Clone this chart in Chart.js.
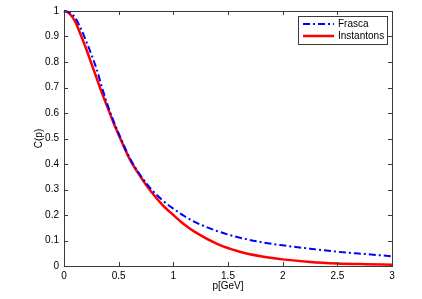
<!DOCTYPE html>
<html>
<head>
<meta charset="utf-8">
<script src="https://cdn.jsdelivr.net/npm/chart.js@4.4.1/dist/chart.umd.min.js"></script>
<style>
  html, body { margin: 0; padding: 0; background: #fff; }
  #wrap { width: 422px; height: 299px; }
</style>
</head>
<body>
<div id="wrap"><canvas id="corrChart" width="422" height="299"></canvas></div>
<script>
// momentum values p [GeV]
const pValues = [0, 0.05, 0.1, 0.15, 0.2, 0.25, 0.3, 0.35, 0.4, 0.45, 0.5, 0.6, 0.7, 0.8, 0.9, 1.0, 1.1, 1.2, 1.4, 1.6, 1.8, 2.0, 2.25, 2.5, 2.75, 3.0];
// C(p)
const frascaValues = [1, 0.995, 0.975, 0.935, 0.885, 0.83, 0.77, 0.697, 0.63, 0.572, 0.52, 0.425, 0.355, 0.30, 0.258, 0.225, 0.196, 0.172, 0.137, 0.112, 0.094, 0.081, 0.068, 0.056, 0.047, 0.038];
const instantonValues = [1, 0.99, 0.96, 0.91, 0.855, 0.795, 0.735, 0.675, 0.62, 0.565, 0.515, 0.42, 0.35, 0.29, 0.24, 0.20, 0.163, 0.133, 0.087, 0.057, 0.038, 0.026, 0.016, 0.01, 0.007, 0.005];
const seriesNames = ['Frasca', 'Instantons'];
const xTicks = [0, 0.5, 1, 1.5, 2, 2.5, 3];
const yTicks = [0, 0.1, 0.2, 0.3, 0.4, 0.5, 0.6, 0.7, 0.8, 0.9, 1];

const FONT = 'Liberation Sans, Arial, Helvetica, sans-serif';
const toPoints = (xs, ys) => xs.map((x, i) => ({ x: x, y: ys[i] }));
const fmt = v => String(+Number(v).toFixed(2));

// Box rond de assen met ticks naar binnen (Matlab stijl)
const boxPlugin = {
    id: 'matlabBox',
    afterDatasetsDraw(chart) {
        const { ctx, chartArea: a, scales } = chart;
        ctx.save();
        ctx.strokeStyle = '#3a3a3a';
        ctx.lineWidth = 1;
        ctx.strokeRect(a.left + 0.5, a.top + 0.5, a.right - a.left, a.bottom - a.top);
        ctx.beginPath();
        xTicks.forEach(v => {
            const px = Math.round(scales.x.getPixelForValue(v)) + 0.5;
            ctx.moveTo(px, a.bottom); ctx.lineTo(px, a.bottom - 4);
            ctx.moveTo(px, a.top); ctx.lineTo(px, a.top + 4);
        });
        yTicks.forEach(v => {
            const py = Math.round(scales.y.getPixelForValue(v)) + 0.5;
            ctx.moveTo(a.left, py); ctx.lineTo(a.left + 4, py);
            ctx.moveTo(a.right, py); ctx.lineTo(a.right - 4, py);
        });
        ctx.stroke();
        ctx.restore();
    },
    afterDraw(chart) {
        // legenda rechtsboven
        const { ctx, chartArea: a } = chart;
        const bx = a.right - 94, by = a.top + 5, bw = 89, bh = 28;
        ctx.save();
        ctx.fillStyle = '#fff';
        ctx.fillRect(bx, by, bw, bh);
        ctx.strokeStyle = '#3a3a3a';
        ctx.lineWidth = 1;
        ctx.strokeRect(bx + 0.5, by + 0.5, bw, bh);
        chart.data.datasets.forEach((ds, i) => {
            const y = by + 8 + i * 12;
            ctx.beginPath();
            ctx.strokeStyle = ds.borderColor;
            ctx.lineWidth = ds.borderWidth;
            ctx.setLineDash(ds.borderDash || []);
            ctx.moveTo(bx + 5, y); ctx.lineTo(bx + 36, y);
            ctx.stroke();
            ctx.setLineDash([]);
            ctx.fillStyle = '#000';
            ctx.font = '10px ' + FONT;
            ctx.textBaseline = 'middle';
            ctx.fillText(ds.label, bx + 40, y + 0.5);
        });
        ctx.restore();
    }
};

new Chart(document.getElementById('corrChart'), {
    type: 'line',
    data: {
        datasets: [
            {
                label: seriesNames[0],
                data: toPoints(pValues, frascaValues),
                borderColor: '#0000ff',
                borderWidth: 2,
                borderDash: [7, 3, 2, 3],
                pointRadius: 0,
                cubicInterpolationMode: 'monotone',
                clip: 4
            },
            {
                label: seriesNames[1],
                data: toPoints(pValues, instantonValues),
                borderColor: '#ff0000',
                borderWidth: 2.5,
                pointRadius: 0,
                cubicInterpolationMode: 'monotone',
                clip: 4
            }
        ]
    },
    options: {
        responsive: false,
        animation: false,
        layout: { padding: { left: 0, right: 30, top: 7, bottom: 0 } },
        plugins: { legend: { display: false }, tooltip: { enabled: false } },
        scales: {
            x: {
                type: 'linear', min: 0, max: 3,
                afterFit: s => { s.height = 33; },
                afterBuildTicks: s => { s.ticks = xTicks.map(v => ({ value: v })); },
                grid: { display: false, drawTicks: false },
                border: { display: false },
                ticks: { padding: 4, color: '#000', font: { family: FONT, size: 10 }, maxRotation: 0, callback: fmt },
                title: { display: true, text: 'p[GeV]', color: '#000', font: { family: FONT, size: 10 }, padding: { top: 2, bottom: 7 } }
            },
            y: {
                min: 0, max: 1,
                afterFit: s => { s.width = 64; },
                afterBuildTicks: s => { s.ticks = yTicks.map(v => ({ value: v })); },
                grid: { display: false, drawTicks: false },
                border: { display: false },
                ticks: { padding: 5, color: '#000', font: { family: FONT, size: 10 }, callback: fmt },
                title: { display: true, text: 'C(p)', color: '#000', font: { family: FONT, size: 10 }, padding: { top: 33, bottom: 0 } }
            }
        }
    },
    plugins: [boxPlugin]
});
</script>
</body>
</html>
